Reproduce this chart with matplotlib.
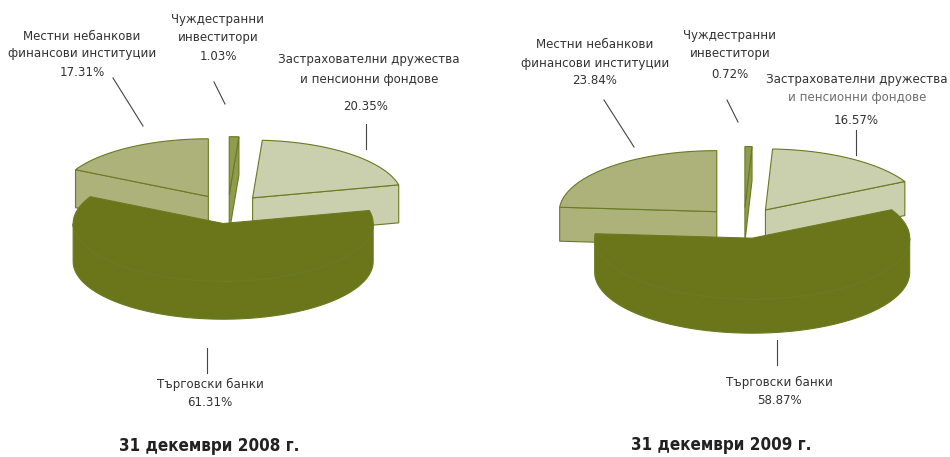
import numpy as np
import matplotlib.pyplot as plt
from matplotlib import font_manager as fm
from matplotlib.patches import Polygon

labels = ['Чуждестранни\nинвеститори',
          'Застрахователни дружества\nи пенсионни фондове',
          'Търговски банки',
          'Местни небанкови\nфинансови институции']
shares_2008 = [1.03, 20.35, 61.31, 17.31]
shares_2009 = [0.72, 16.57, 58.87, 23.84]
titles = ['31 декември 2008 г.', '31 декември 2009 г.']
colors = ['#8e9c4c', '#cacfad', '#6a7619', '#adb27b']
edge = '#6b7a22'
text_c = '#333333'

# prefer a narrow sans face for the labels
fonts = fm.fontManager.ttflist
names = {f.name for f in fonts}
font_kw = {'family': ['DejaVu Sans']}
if 'Liberation Sans Narrow' in names:
    font_kw = {'family': ['Liberation Sans Narrow', 'DejaVu Sans']}
elif any(f.name == 'DejaVu Sans' and f.stretch == 'condensed' for f in fonts):
    font_kw = {'family': ['DejaVu Sans'], 'fontstretch': 'condensed'}
elif 'Roboto' in names:
    font_kw = {'family': ['Roboto', 'DejaVu Sans']}


def arc(px, py, rx, ry, a, b, n=60):
    t = np.radians(np.linspace(a, b, max(2, int(n * (b - a) / 90) + 2)))
    return np.column_stack([px + rx * np.sin(t), py - ry * np.cos(t)])


def pie3d(ax, shares, cx, cy, rx, ry, depth, explode):
    # slices go clockwise from 12 o'clock
    slices = []
    start = 0.0
    for v, c in zip(shares, colors):
        t0, t1 = start, start + 360.0 * v / 100.0
        start = t1
        tm = np.radians((t0 + t1) / 2)
        px = cx + explode * np.sin(tm)
        py = cy - explode * ry / rx * np.cos(tm)
        slices.append((py, px, t0, t1, c))
    slices.sort()
    z = 1
    for py, px, t0, t1, c in slices:
        down = np.array([0, depth])
        apex = np.array([px, py])
        faces = []
        for t, nrm in ((t0, t0 - 90), (t1, t1 + 90)):
            if np.cos(np.radians(nrm)) < -1e-6:
                p = arc(px, py, rx, ry, t, t, 1)[0]
                faces.append([apex, p, p + down, apex + down])
        a, b = max(t0, 90), min(t1, 270)
        if a < b:
            top = arc(px, py, rx, ry, a, b)
            faces.append(np.vstack([top, (top + down)[::-1]]))
        faces.append(np.vstack([apex, arc(px, py, rx, ry, t0, t1)]))
        for f in faces:
            ax.add_patch(Polygon(np.array(f), closed=True, facecolor=c,
                                 edgecolor=edge, lw=0.8, joinstyle='miter',
                                 zorder=z))
            z += 1


fig = plt.figure(figsize=(9.5, 4.57), dpi=100)
ax = fig.add_axes([0, 0, 1, 1])
ax.set_xlim(0, 950)
ax.set_ylim(457, 0)
ax.axis('off')
renderer = fig.canvas.get_renderer()


def fitted_size(s, width, **kw):
    t = ax.text(0, 0, s, fontsize=10, **font_kw, **kw)
    w = t.get_window_extent(renderer).width
    t.remove()
    return 10 * width / w


fs = fitted_size('финансови институции', 147)
fs_title = fitted_size(titles[0], 180, fontweight='bold')


def label(x, ys, lines, colors_=None):
    for i, (y, s) in enumerate(zip(ys, lines)):
        c = colors_[i] if colors_ else text_c
        ax.text(x, y, s, ha='center', va='center', fontsize=fs,
                color=c, **font_kw)


def pct(v):
    return f'{v:.2f}%'


pie3d(ax, shares_2008, 228, 209, 150, 57.7, 38, 38)
pie3d(ax, shares_2009, 744, 223, 157.5, 61, 34, 40)

# 2008 labels
label(218, [19, 38, 56], labels[0].split('\n') + [pct(shares_2008[0])])
label(369, [60, 79], labels[1].split('\n'))
label(366, [106], [pct(shares_2008[1])])
label(210, [384, 402], [labels[2], pct(shares_2008[2])])
label(82, [36, 54, 72], labels[3].split('\n') + [pct(shares_2008[3])])
ax.text(209, 451, titles[0], ha='center', va='baseline', fontsize=fs_title,
        fontweight='bold', color='#222222', **font_kw)

# 2009 labels
label(730, [35, 53, 75], labels[0].split('\n') + [pct(shares_2009[0])])
label(857, [79, 98], labels[1].split('\n'), [text_c, '#6e6e6e'])
label(856, [120], [pct(shares_2009[1])])
label(779, [382, 400], [labels[2], pct(shares_2009[2])])
label(595, [45, 63, 81], labels[3].split('\n') + [pct(shares_2009[3])])
ax.text(721, 450, titles[1], ha='center', va='baseline', fontsize=fs_title,
        fontweight='bold', color='#222222', **font_kw)

# leader lines
leaders = [((113, 78), (143, 126)), ((214, 82), (225, 104)),
           ((366, 124), (366, 149)), ((207, 348), (207, 373)),
           ((604, 100), (634, 147)), ((727, 100), (738, 122)),
           ((856, 130), (856, 155)), ((777, 340), (777, 365))]
for (x0, y0), (x1, y1) in leaders:
    ax.plot([x0, x1], [y0, y1], color='#444444', lw=0.8)

fig.savefig('out.png', dpi=100, facecolor='white')
